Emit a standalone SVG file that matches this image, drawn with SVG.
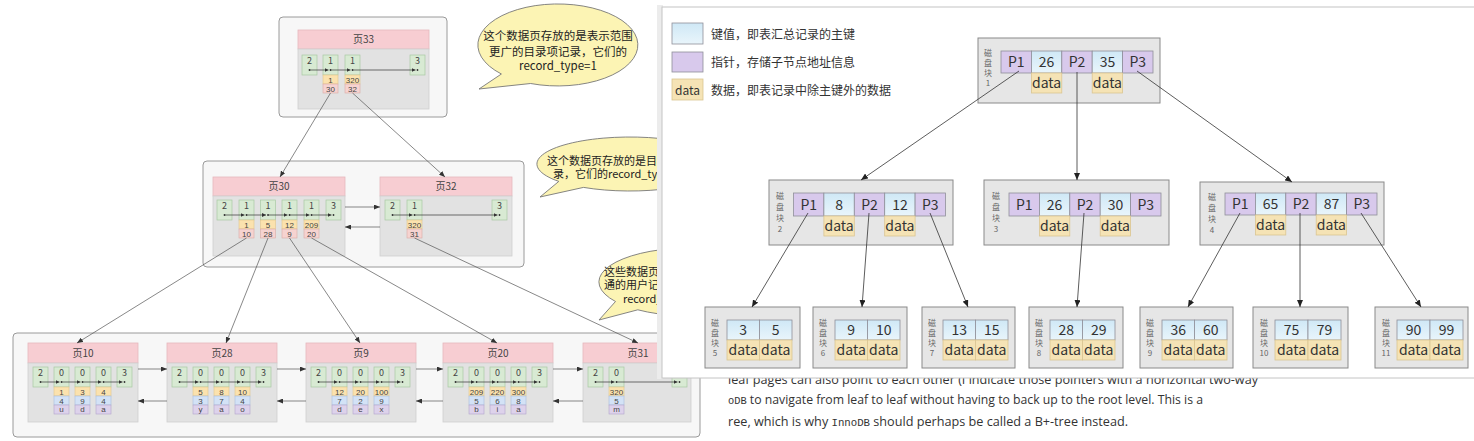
<svg xmlns="http://www.w3.org/2000/svg" width="1474" height="441" viewBox="0 0 1474 441">
<defs>
<marker id="ma" markerWidth="4" markerHeight="4" refX="4" refY="2" orient="auto" markerUnits="userSpaceOnUse"><path d="M0,0 L4,2 L0,4 z" fill="#333"/></marker>
<marker id="mb" markerWidth="6" markerHeight="5" refX="6" refY="2.5" orient="auto" markerUnits="userSpaceOnUse"><path d="M0,0 L6,2.5 L0,5 z" fill="#333"/></marker>
<marker id="mc" markerWidth="7" markerHeight="6" refX="7" refY="3" orient="auto" markerUnits="userSpaceOnUse"><path d="M0,0 L7,3 L0,6 z" fill="#222"/></marker>
<linearGradient id="gk" x1="0" y1="0" x2="0" y2="1"><stop offset="0" stop-color="#cfe8f6"/><stop offset="1" stop-color="#e9f5fb"/></linearGradient>
</defs>
<style>
.ct{fill:#f7f7f7;stroke:#9a9a9a;stroke-width:1}
.hd{fill:#f7cdd2;stroke:#e6b8bd;stroke-width:0.8}
.bd{fill:#e2e2e2;stroke:#cfcfcf;stroke-width:0.8}
.rc{fill:#d8ead3;stroke:#a9c9a4;stroke-width:0.7}
.ky{fill:#fbe2ae;stroke:#e2c68a;stroke-width:0.6}
.pg{fill:#f6d3d0;stroke:#d9aaa6;stroke-width:0.6}
.bl{fill:#d3e2f6;stroke:#a9bedd;stroke-width:0.6}
.pu{fill:#ddd2eb;stroke:#b3a5cb;stroke-width:0.6}
.n{font-family:"Noto Sans CJK SC","Noto Sans",sans-serif;font-size:9px;fill:#444;text-anchor:middle}
.k{font-family:"Liberation Sans",sans-serif;font-size:8px;fill:#444;text-anchor:middle}
.hn{font-family:"Noto Sans CJK SC","Noto Sans",sans-serif;font-size:10px;fill:#444;text-anchor:middle}
.ch{stroke:#333;stroke-width:0.7;fill:none;marker-end:url(#ma)}
.dt{fill:#333}
.ln{stroke:#555;stroke-width:0.7;fill:none;marker-end:url(#mb)}
.bub{fill:#fcf4b4;stroke:#777;stroke-width:0.9}
.bt{font-family:"Noto Sans CJK SC","Noto Sans",sans-serif;font-size:11.5px;fill:#222}
.bt2{font-family:"Noto Sans CJK SC","Noto Sans",sans-serif;font-size:11px;fill:#222}
.blk{fill:#e6e6e6;stroke:#8a8a8a;stroke-width:1}
.cp{fill:#d8c9ec;stroke:#8f8f9a;stroke-width:0.8}
.ck{fill:url(#gk);stroke:#8f8f9a;stroke-width:0.8}
.cd{fill:#f5e3b5;stroke:#dac592;stroke-width:0.8}
.ct2{font-family:"Noto Sans CJK SC","Noto Sans",sans-serif;font-size:14px;fill:#333;text-anchor:middle}
.vl{font-family:"Noto Sans CJK SC",sans-serif;font-size:8px;fill:#666;text-anchor:middle}
.tl{stroke:#333;stroke-width:0.8;fill:none;marker-end:url(#mc)}
.lg{font-family:"Noto Sans CJK SC",sans-serif;font-size:12px;fill:#333}
.en{font-family:"Open Sans","Noto Sans",sans-serif;font-size:13px;fill:#333}
.mo{font-family:"Liberation Mono","DejaVu Sans Mono",monospace;font-size:11px}
</style>
<rect x="0" y="0" width="1474" height="441" fill="#ffffff"/>

<!-- bubbles -->
<g id="bubble1">
<path class="bub" d="M501.4,74 A80 41 0 1 1 530.6,83.5 L479,89 Z"/>
<text class="bt" x="558" y="40" text-anchor="middle">这个数据页存放的是表示范围</text>
<text class="bt" x="558" y="56" text-anchor="middle">更广的目录项记录，它们的</text>
<text class="bt" x="558" y="70" text-anchor="middle">record_type=1</text>
</g>
<g id="bubble2">
<path class="bub" d="M558.8,181.4 A93 27 0 1 1 583.5,187.4 L540,197 Z"/>
<text class="bt2" x="547" y="164.5">这个数据页存放的是目</text>
<text class="bt2" x="553" y="178">录，它们的record_ty</text>
</g>
<g id="bubble3">
<path class="bub" d="M615.5,301.5 A91 34 0 1 1 637.8,309.8 L599,320 Z"/>
<text class="bt2" x="604" y="275.5">这些数据页</text>
<text class="bt2" x="604" y="289">通的用户记</text>
<text class="bt2" x="623" y="303">record_</text>
</g>

<!-- page 33 -->
<g id="page33">
<rect class="ct" x="279" y="17" width="168" height="100" rx="4"/>
<rect class="hd" x="298" y="30" width="131" height="19"/>
<text class="hn" x="363.5" y="43">页33</text>
<rect class="bd" x="298" y="49" width="131" height="60"/>
<rect class="rc" x="302" y="55" width="15" height="20"/><rect class="rc" x="323" y="55" width="15" height="20"/><rect class="rc" x="345" y="55" width="15" height="20"/><rect class="rc" x="410" y="55" width="15" height="20"/>
<text class="n" x="309.5" y="64">2</text><text class="n" x="330.5" y="64">1</text><text class="n" x="352.5" y="64">1</text><text class="n" x="417.5" y="64">3</text>
<circle class="dt" cx="309.5" cy="70" r="0.9"/><circle class="dt" cx="330.5" cy="70" r="0.9"/><circle class="dt" cx="352.5" cy="70" r="0.9"/><circle class="dt" cx="417.5" cy="70" r="0.9"/>
<line class="ch" x1="309.5" y1="70" x2="328.5" y2="70"/><line class="ch" x1="330.5" y1="70" x2="350.5" y2="70"/><line class="ch" x1="352.5" y1="70" x2="415.5" y2="70"/>
<rect class="ky" x="323" y="75" width="15" height="9"/><rect class="ky" x="345" y="75" width="15" height="9"/>
<rect class="pg" x="323" y="84" width="15" height="9"/><rect class="pg" x="345" y="84" width="15" height="9"/>
<text class="k" x="330.5" y="82.5">1</text><text class="k" x="352.5" y="82.5">320</text>
<text class="k" x="330.5" y="91.5">30</text><text class="k" x="352.5" y="91.5">32</text>
</g>

<!-- level 1 -->
<g id="page30">
<rect class="ct" x="203" y="161" width="321" height="106" rx="4"/>
<rect class="hd" x="213" y="177" width="132" height="19"/>
<text class="hn" x="279" y="190">页30</text>
<rect class="bd" x="213" y="196" width="132" height="60"/>
<rect class="rc" x="217" y="200" width="15" height="20"/><rect class="rc" x="239" y="200" width="15" height="20"/><rect class="rc" x="260.5" y="200" width="15" height="20"/><rect class="rc" x="282" y="200" width="15" height="20"/><rect class="rc" x="304" y="200" width="15" height="20"/><rect class="rc" x="326" y="200" width="15" height="20"/>
<text class="n" x="224.5" y="209">2</text><text class="n" x="246.5" y="209">1</text><text class="n" x="268" y="209">1</text><text class="n" x="289.5" y="209">1</text><text class="n" x="311.5" y="209">1</text><text class="n" x="333.5" y="209">3</text>
<circle class="dt" cx="224.5" cy="215" r="0.9"/><circle class="dt" cx="246.5" cy="215" r="0.9"/><circle class="dt" cx="268" cy="215" r="0.9"/><circle class="dt" cx="289.5" cy="215" r="0.9"/><circle class="dt" cx="311.5" cy="215" r="0.9"/><circle class="dt" cx="333.5" cy="215" r="0.9"/>
<line class="ch" x1="224.5" y1="215" x2="244.5" y2="215"/><line class="ch" x1="246.5" y1="215" x2="266" y2="215"/><line class="ch" x1="268" y1="215" x2="287.5" y2="215"/><line class="ch" x1="289.5" y1="215" x2="309.5" y2="215"/><line class="ch" x1="311.5" y1="215" x2="331.5" y2="215"/>
<rect class="ky" x="239" y="220" width="15" height="9"/><rect class="ky" x="260.5" y="220" width="15" height="9"/><rect class="ky" x="282" y="220" width="15" height="9"/><rect class="ky" x="304" y="220" width="15" height="9"/>
<rect class="pg" x="239" y="229" width="15" height="9"/><rect class="pg" x="260.5" y="229" width="15" height="9"/><rect class="pg" x="282" y="229" width="15" height="9"/><rect class="pg" x="304" y="229" width="15" height="9"/>
<text class="k" x="246.5" y="227.5">1</text><text class="k" x="268" y="227.5">5</text><text class="k" x="289.5" y="227.5">12</text><text class="k" x="311.5" y="227.5">209</text>
<text class="k" x="246.5" y="236.5">10</text><text class="k" x="268" y="236.5">28</text><text class="k" x="289.5" y="236.5">9</text><text class="k" x="311.5" y="236.5">20</text>
</g>
<g id="page32">
<rect class="hd" x="380" y="177" width="132" height="19"/>
<text class="hn" x="446" y="190">页32</text>
<rect class="bd" x="380" y="196" width="132" height="60"/>
<rect class="rc" x="385" y="200" width="15" height="20"/><rect class="rc" x="407" y="200" width="15" height="20"/><rect class="rc" x="492" y="200" width="15" height="20"/>
<text class="n" x="392.5" y="209">2</text><text class="n" x="414.5" y="209">1</text><text class="n" x="499.5" y="209">3</text>
<circle class="dt" cx="392.5" cy="215" r="0.9"/><circle class="dt" cx="414.5" cy="215" r="0.9"/><circle class="dt" cx="499.5" cy="215" r="0.9"/>
<line class="ch" x1="392.5" y1="215" x2="412.5" y2="215"/><line class="ch" x1="414.5" y1="215" x2="497.5" y2="215"/>
<rect class="ky" x="407" y="220" width="15" height="9"/><rect class="pg" x="407" y="229" width="15" height="9"/>
<text class="k" x="414.5" y="227.5">320</text><text class="k" x="414.5" y="236.5">31</text>
</g>

<!-- leaf container -->
<rect class="ct" x="13" y="333" width="687" height="104" rx="4"/>

<g id="page10">
<rect class="hd" x="28" y="343" width="110" height="20"/><text class="hn" x="83" y="357">页10</text>
<rect class="bd" x="28" y="363" width="110" height="59"/>
<rect class="rc" x="33" y="367" width="15" height="20"/><rect class="rc" x="54" y="367" width="15" height="20"/><rect class="rc" x="75" y="367" width="15" height="20"/><rect class="rc" x="96" y="367" width="15" height="20"/><rect class="rc" x="117" y="367" width="15" height="20"/>
<text class="n" x="40.5" y="376">2</text><text class="n" x="61.5" y="376">0</text><text class="n" x="82.5" y="376">0</text><text class="n" x="103.5" y="376">0</text><text class="n" x="124.5" y="376">3</text>
<circle class="dt" cx="40.5" cy="382" r="0.9"/><circle class="dt" cx="61.5" cy="382" r="0.9"/><circle class="dt" cx="82.5" cy="382" r="0.9"/><circle class="dt" cx="103.5" cy="382" r="0.9"/><circle class="dt" cx="124.5" cy="382" r="0.9"/>
<line class="ch" x1="40.5" y1="382" x2="59.5" y2="382"/><line class="ch" x1="61.5" y1="382" x2="80.5" y2="382"/><line class="ch" x1="82.5" y1="382" x2="101.5" y2="382"/><line class="ch" x1="103.5" y1="382" x2="122.5" y2="382"/>
<rect class="ky" x="54" y="387" width="15" height="9"/><rect class="ky" x="75" y="387" width="15" height="9"/><rect class="ky" x="96" y="387" width="15" height="9"/>
<rect class="bl" x="54" y="396" width="15" height="9"/><rect class="bl" x="75" y="396" width="15" height="9"/><rect class="bl" x="96" y="396" width="15" height="9"/>
<rect class="pu" x="54" y="405" width="15" height="9"/><rect class="pu" x="75" y="405" width="15" height="9"/><rect class="pu" x="96" y="405" width="15" height="9"/>
<text class="k" x="61.5" y="394.5">1</text><text class="k" x="82.5" y="394.5">3</text><text class="k" x="103.5" y="394.5">4</text>
<text class="k" x="61.5" y="403.5">4</text><text class="k" x="82.5" y="403.5">9</text><text class="k" x="103.5" y="403.5">4</text>
<text class="k" x="61.5" y="411.5">u</text><text class="k" x="82.5" y="411.5">d</text><text class="k" x="103.5" y="411.5">a</text>
</g>

<g id="page28">
<rect class="hd" x="167" y="343" width="110" height="20"/><text class="hn" x="222" y="357">页28</text>
<rect class="bd" x="167" y="363" width="110" height="59"/>
<rect class="rc" x="172" y="367" width="15" height="20"/><rect class="rc" x="193" y="367" width="15" height="20"/><rect class="rc" x="214" y="367" width="15" height="20"/><rect class="rc" x="235" y="367" width="15" height="20"/><rect class="rc" x="256" y="367" width="15" height="20"/>
<text class="n" x="179.5" y="376">2</text><text class="n" x="200.5" y="376">0</text><text class="n" x="221.5" y="376">0</text><text class="n" x="242.5" y="376">0</text><text class="n" x="263.5" y="376">3</text>
<circle class="dt" cx="179.5" cy="382" r="0.9"/><circle class="dt" cx="200.5" cy="382" r="0.9"/><circle class="dt" cx="221.5" cy="382" r="0.9"/><circle class="dt" cx="242.5" cy="382" r="0.9"/><circle class="dt" cx="263.5" cy="382" r="0.9"/>
<line class="ch" x1="179.5" y1="382" x2="198.5" y2="382"/><line class="ch" x1="200.5" y1="382" x2="219.5" y2="382"/><line class="ch" x1="221.5" y1="382" x2="240.5" y2="382"/><line class="ch" x1="242.5" y1="382" x2="261.5" y2="382"/>
<rect class="ky" x="193" y="387" width="15" height="9"/><rect class="ky" x="214" y="387" width="15" height="9"/><rect class="ky" x="235" y="387" width="15" height="9"/>
<rect class="bl" x="193" y="396" width="15" height="9"/><rect class="bl" x="214" y="396" width="15" height="9"/><rect class="bl" x="235" y="396" width="15" height="9"/>
<rect class="pu" x="193" y="405" width="15" height="9"/><rect class="pu" x="214" y="405" width="15" height="9"/><rect class="pu" x="235" y="405" width="15" height="9"/>
<text class="k" x="200.5" y="394.5">5</text><text class="k" x="221.5" y="394.5">8</text><text class="k" x="242.5" y="394.5">10</text>
<text class="k" x="200.5" y="403.5">3</text><text class="k" x="221.5" y="403.5">7</text><text class="k" x="242.5" y="403.5">4</text>
<text class="k" x="200.5" y="411.5">y</text><text class="k" x="221.5" y="411.5">a</text><text class="k" x="242.5" y="411.5">o</text>
</g>

<g id="page9">
<rect class="hd" x="306" y="343" width="110" height="20"/><text class="hn" x="361" y="357">页9</text>
<rect class="bd" x="306" y="363" width="110" height="59"/>
<rect class="rc" x="311" y="367" width="15" height="20"/><rect class="rc" x="332" y="367" width="15" height="20"/><rect class="rc" x="353" y="367" width="15" height="20"/><rect class="rc" x="374" y="367" width="15" height="20"/><rect class="rc" x="395" y="367" width="15" height="20"/>
<text class="n" x="318.5" y="376">2</text><text class="n" x="339.5" y="376">0</text><text class="n" x="360.5" y="376">0</text><text class="n" x="381.5" y="376">0</text><text class="n" x="402.5" y="376">3</text>
<circle class="dt" cx="318.5" cy="382" r="0.9"/><circle class="dt" cx="339.5" cy="382" r="0.9"/><circle class="dt" cx="360.5" cy="382" r="0.9"/><circle class="dt" cx="381.5" cy="382" r="0.9"/><circle class="dt" cx="402.5" cy="382" r="0.9"/>
<line class="ch" x1="318.5" y1="382" x2="337.5" y2="382"/><line class="ch" x1="339.5" y1="382" x2="358.5" y2="382"/><line class="ch" x1="360.5" y1="382" x2="379.5" y2="382"/><line class="ch" x1="381.5" y1="382" x2="400.5" y2="382"/>
<rect class="ky" x="332" y="387" width="15" height="9"/><rect class="ky" x="353" y="387" width="15" height="9"/><rect class="ky" x="374" y="387" width="15" height="9"/>
<rect class="bl" x="332" y="396" width="15" height="9"/><rect class="bl" x="353" y="396" width="15" height="9"/><rect class="bl" x="374" y="396" width="15" height="9"/>
<rect class="pu" x="332" y="405" width="15" height="9"/><rect class="pu" x="353" y="405" width="15" height="9"/><rect class="pu" x="374" y="405" width="15" height="9"/>
<text class="k" x="339.5" y="394.5">12</text><text class="k" x="360.5" y="394.5">20</text><text class="k" x="381.5" y="394.5">100</text>
<text class="k" x="339.5" y="403.5">7</text><text class="k" x="360.5" y="403.5">2</text><text class="k" x="381.5" y="403.5">9</text>
<text class="k" x="339.5" y="411.5">d</text><text class="k" x="360.5" y="411.5">e</text><text class="k" x="381.5" y="411.5">x</text>
</g>

<g id="page20">
<rect class="hd" x="443" y="343" width="110" height="20"/><text class="hn" x="498" y="357">页20</text>
<rect class="bd" x="443" y="363" width="110" height="59"/>
<rect class="rc" x="448" y="367" width="15" height="20"/><rect class="rc" x="469" y="367" width="15" height="20"/><rect class="rc" x="490" y="367" width="15" height="20"/><rect class="rc" x="511" y="367" width="15" height="20"/><rect class="rc" x="532" y="367" width="15" height="20"/>
<text class="n" x="455.5" y="376">2</text><text class="n" x="476.5" y="376">0</text><text class="n" x="497.5" y="376">0</text><text class="n" x="518.5" y="376">0</text><text class="n" x="539.5" y="376">3</text>
<circle class="dt" cx="455.5" cy="382" r="0.9"/><circle class="dt" cx="476.5" cy="382" r="0.9"/><circle class="dt" cx="497.5" cy="382" r="0.9"/><circle class="dt" cx="518.5" cy="382" r="0.9"/><circle class="dt" cx="539.5" cy="382" r="0.9"/>
<line class="ch" x1="455.5" y1="382" x2="474.5" y2="382"/><line class="ch" x1="476.5" y1="382" x2="495.5" y2="382"/><line class="ch" x1="497.5" y1="382" x2="516.5" y2="382"/><line class="ch" x1="518.5" y1="382" x2="537.5" y2="382"/>
<rect class="ky" x="469" y="387" width="15" height="9"/><rect class="ky" x="490" y="387" width="15" height="9"/><rect class="ky" x="511" y="387" width="15" height="9"/>
<rect class="bl" x="469" y="396" width="15" height="9"/><rect class="bl" x="490" y="396" width="15" height="9"/><rect class="bl" x="511" y="396" width="15" height="9"/>
<rect class="pu" x="469" y="405" width="15" height="9"/><rect class="pu" x="490" y="405" width="15" height="9"/><rect class="pu" x="511" y="405" width="15" height="9"/>
<text class="k" x="476.5" y="394.5">209</text><text class="k" x="497.5" y="394.5">220</text><text class="k" x="518.5" y="394.5">300</text>
<text class="k" x="476.5" y="403.5">5</text><text class="k" x="497.5" y="403.5">6</text><text class="k" x="518.5" y="403.5">8</text>
<text class="k" x="476.5" y="411.5">b</text><text class="k" x="497.5" y="411.5">i</text><text class="k" x="518.5" y="411.5">a</text>
</g>

<g id="page31">
<rect class="hd" x="583" y="343" width="108" height="20"/><text class="hn" x="638" y="357">页31</text>
<rect class="bd" x="583" y="363" width="108" height="59"/>
<rect class="rc" x="588" y="367" width="15" height="20"/><rect class="rc" x="609" y="367" width="15" height="20"/><rect class="rc" x="672" y="367" width="15" height="20"/>
<text class="n" x="595.5" y="376">2</text><text class="n" x="616.5" y="376">0</text>
<circle class="dt" cx="595.5" cy="382" r="0.9"/><circle class="dt" cx="616.5" cy="382" r="0.9"/><circle class="dt" cx="679.5" cy="382" r="0.9"/>
<line class="ch" x1="595.5" y1="382" x2="614.5" y2="382"/><line class="ch" x1="616.5" y1="382" x2="677.5" y2="382"/>
<rect class="ky" x="609" y="387" width="15" height="9"/><rect class="bl" x="609" y="396" width="15" height="9"/><rect class="pu" x="609" y="405" width="15" height="9"/>
<text class="k" x="616.5" y="394.5">320</text><text class="k" x="616.5" y="403.5">5</text><text class="k" x="616.5" y="411.5">m</text>
</g>

<!-- left connectors -->
<g id="left-connectors">
<line class="ln" x1="330.5" y1="93" x2="280" y2="177"/>
<line class="ln" x1="352.5" y1="93" x2="445" y2="177"/>
<line class="ln" x1="345" y1="207" x2="380" y2="207"/>
<line class="ln" x1="380" y1="227" x2="345" y2="227"/>
<line class="ln" x1="246.5" y1="238" x2="77" y2="343"/>
<line class="ln" x1="268" y1="238" x2="226" y2="343"/>
<line class="ln" x1="289.5" y1="238" x2="360" y2="343"/>
<line class="ln" x1="311.5" y1="238" x2="497" y2="343"/>
<line class="ln" x1="414.5" y1="238" x2="638" y2="343"/>
<line class="ln" x1="138" y1="369" x2="167" y2="369"/>
<line class="ln" x1="277" y1="369" x2="306" y2="369"/>
<line class="ln" x1="416" y1="369" x2="443" y2="369"/>
<line class="ln" x1="553" y1="369" x2="583" y2="369"/>
<line class="ln" x1="167" y1="401" x2="138" y2="401"/>
<line class="ln" x1="306" y1="401" x2="277" y2="401"/>
<line class="ln" x1="443" y1="401" x2="416" y2="401"/>
<line class="ln" x1="583" y1="401" x2="553" y2="401"/>
</g>

<!-- background page text -->
<g id="page-text">
<text class="en" x="728" y="384" textLength="530" lengthAdjust="spacingAndGlyphs">leaf pages can also point to each other (I indicate those pointers with a horizontal two-way</text>
<text class="en" x="728" y="404" textLength="475" lengthAdjust="spacingAndGlyphs"><tspan class="mo">oDB</tspan> to navigate from leaf to leaf without having to back up to the root level. This is a</text>
<text class="en" x="728" y="426" textLength="400" lengthAdjust="spacingAndGlyphs">ree, which is why <tspan class="mo">InnoDB</tspan> should perhaps be called a B+-tree instead.</text>
</g>

<!-- right panel -->
<rect x="657" y="5" width="6" height="374" fill="#ececec"/>
<rect x="662" y="7" width="820" height="371" fill="#ffffff" stroke="#c4c4c4" stroke-width="1"/>

<g id="legend">
<rect class="ck" x="672" y="23" width="31" height="21"/>
<text class="lg" x="711" y="38.5">键值，即表汇总记录的主键</text>
<rect class="cp" x="672" y="52" width="31" height="20"/>
<text class="lg" x="711" y="66.5">指针，存储子节点地址信息</text>
<rect class="cd" x="672" y="79" width="31" height="21"/>
<text class="lg" x="687.5" y="94.5" text-anchor="middle">data</text>
<text class="lg" x="711" y="94.5">数据，即表记录中除主键外的数据</text>
</g>

<g id="block1">
<rect class="blk" x="978" y="38" width="182" height="65"/>
<text class="vl" x="988" y="56">磁</text><text class="vl" x="988" y="66">盘</text><text class="vl" x="988" y="76">块</text><text class="vl" x="988" y="86">1</text>
<rect class="cp" x="1001" y="51" width="30.4" height="22"/><rect class="ck" x="1031.4" y="51" width="30.4" height="22"/><rect class="cp" x="1061.8" y="51" width="30.4" height="22"/><rect class="ck" x="1092.2" y="51" width="30.4" height="22"/><rect class="cp" x="1122.6" y="51" width="30.4" height="22"/>
<rect class="cd" x="1031.4" y="73" width="30.4" height="20"/><rect class="cd" x="1092.2" y="73" width="30.4" height="20"/>
<text class="ct2" x="1016.2" y="67">P1</text><text class="ct2" x="1046.6" y="67">26</text><text class="ct2" x="1077" y="67">P2</text><text class="ct2" x="1107.4" y="67">35</text><text class="ct2" x="1137.8" y="67">P3</text>
<text class="ct2" x="1046.6" y="88" font-size="13.5">data</text><text class="ct2" x="1107.4" y="88" font-size="13.5">data</text>
</g>

<g id="block2">
<rect class="blk" x="769" y="180" width="184" height="65"/>
<text class="vl" x="780" y="199">磁</text><text class="vl" x="780" y="210">盘</text><text class="vl" x="780" y="221">块</text><text class="vl" x="780" y="232">2</text>
<rect class="cp" x="793.5" y="193" width="30.4" height="23"/><rect class="ck" x="823.9" y="193" width="30.4" height="23"/><rect class="cp" x="854.3" y="193" width="30.4" height="23"/><rect class="ck" x="884.7" y="193" width="30.4" height="23"/><rect class="cp" x="915.1" y="193" width="30.4" height="23"/>
<rect class="cd" x="823.9" y="216" width="30.4" height="20"/><rect class="cd" x="884.7" y="216" width="30.4" height="20"/>
<text class="ct2" x="808.7" y="209.5">P1</text><text class="ct2" x="839.1" y="209.5">8</text><text class="ct2" x="869.5" y="209.5">P2</text><text class="ct2" x="899.9" y="209.5">12</text><text class="ct2" x="930.3" y="209.5">P3</text>
<text class="ct2" x="839.1" y="231" font-size="13.5">data</text><text class="ct2" x="899.9" y="231" font-size="13.5">data</text>
</g>

<g id="block3">
<rect class="blk" x="984" y="180" width="185" height="65"/>
<text class="vl" x="996" y="199">磁</text><text class="vl" x="996" y="210">盘</text><text class="vl" x="996" y="221">块</text><text class="vl" x="996" y="232">3</text>
<rect class="cp" x="1009" y="193" width="30.4" height="23"/><rect class="ck" x="1039.4" y="193" width="30.4" height="23"/><rect class="cp" x="1069.8" y="193" width="30.4" height="23"/><rect class="ck" x="1100.2" y="193" width="30.4" height="23"/><rect class="cp" x="1130.6" y="193" width="30.4" height="23"/>
<rect class="cd" x="1039.4" y="216" width="30.4" height="20"/><rect class="cd" x="1100.2" y="216" width="30.4" height="20"/>
<text class="ct2" x="1024.2" y="209.5">P1</text><text class="ct2" x="1054.6" y="209.5">26</text><text class="ct2" x="1085" y="209.5">P2</text><text class="ct2" x="1115.4" y="209.5">30</text><text class="ct2" x="1145.8" y="209.5">P3</text>
<text class="ct2" x="1054.6" y="231" font-size="13.5">data</text><text class="ct2" x="1115.4" y="231" font-size="13.5">data</text>
</g>

<g id="block4">
<rect class="blk" x="1200" y="182" width="184" height="63"/>
<text class="vl" x="1212" y="200">磁</text><text class="vl" x="1212" y="211">盘</text><text class="vl" x="1212" y="222">块</text><text class="vl" x="1212" y="233">4</text>
<rect class="cp" x="1225" y="193" width="30.4" height="22"/><rect class="ck" x="1255.4" y="193" width="30.4" height="22"/><rect class="cp" x="1285.8" y="193" width="30.4" height="22"/><rect class="ck" x="1316.2" y="193" width="30.4" height="22"/><rect class="cp" x="1346.6" y="193" width="30.4" height="22"/>
<rect class="cd" x="1255.4" y="215" width="30.4" height="20"/><rect class="cd" x="1316.2" y="215" width="30.4" height="20"/>
<text class="ct2" x="1240.2" y="209">P1</text><text class="ct2" x="1270.6" y="209">65</text><text class="ct2" x="1301" y="209">P2</text><text class="ct2" x="1331.4" y="209">87</text><text class="ct2" x="1361.8" y="209">P3</text>
<text class="ct2" x="1270.6" y="230" font-size="13.5">data</text><text class="ct2" x="1331.4" y="230" font-size="13.5">data</text>
</g>

<g id="block5">
<rect class="blk" x="705" y="307" width="95" height="61"/>
<text class="vl" x="715" y="326">磁</text><text class="vl" x="715" y="336">盘</text><text class="vl" x="715" y="346">块</text><text class="vl" x="715" y="356">5</text>
<rect class="ck" x="727" y="320" width="32.5" height="20"/><rect class="ck" x="759.5" y="320" width="32.5" height="20"/>
<rect class="cd" x="727" y="340" width="32.5" height="20"/><rect class="cd" x="759.5" y="340" width="32.5" height="20"/>
<text class="ct2" x="743.2" y="335">3</text><text class="ct2" x="775.7" y="335">5</text>
<text class="ct2" x="743.2" y="355">data</text><text class="ct2" x="775.7" y="355">data</text>
</g>
<g id="block6">
<rect class="blk" x="813" y="307" width="94" height="61"/>
<text class="vl" x="823" y="326">磁</text><text class="vl" x="823" y="336">盘</text><text class="vl" x="823" y="346">块</text><text class="vl" x="823" y="356">6</text>
<rect class="ck" x="835" y="320" width="32.5" height="20"/><rect class="ck" x="867.5" y="320" width="32.5" height="20"/>
<rect class="cd" x="835" y="340" width="32.5" height="20"/><rect class="cd" x="867.5" y="340" width="32.5" height="20"/>
<text class="ct2" x="851.2" y="335">9</text><text class="ct2" x="883.7" y="335">10</text>
<text class="ct2" x="851.2" y="355">data</text><text class="ct2" x="883.7" y="355">data</text>
</g>
<g id="block7">
<rect class="blk" x="922" y="307" width="93" height="61"/>
<text class="vl" x="932" y="326">磁</text><text class="vl" x="932" y="336">盘</text><text class="vl" x="932" y="346">块</text><text class="vl" x="932" y="356">7</text>
<rect class="ck" x="943" y="320" width="32.5" height="20"/><rect class="ck" x="975.5" y="320" width="32.5" height="20"/>
<rect class="cd" x="943" y="340" width="32.5" height="20"/><rect class="cd" x="975.5" y="340" width="32.5" height="20"/>
<text class="ct2" x="959.2" y="335">13</text><text class="ct2" x="991.7" y="335">15</text>
<text class="ct2" x="959.2" y="355">data</text><text class="ct2" x="991.7" y="355">data</text>
</g>
<g id="block8">
<rect class="blk" x="1029" y="307" width="94" height="61"/>
<text class="vl" x="1039" y="326">磁</text><text class="vl" x="1039" y="336">盘</text><text class="vl" x="1039" y="346">块</text><text class="vl" x="1039" y="356">8</text>
<rect class="ck" x="1050" y="320" width="32.5" height="20"/><rect class="ck" x="1082.5" y="320" width="32.5" height="20"/>
<rect class="cd" x="1050" y="340" width="32.5" height="20"/><rect class="cd" x="1082.5" y="340" width="32.5" height="20"/>
<text class="ct2" x="1066.2" y="335">28</text><text class="ct2" x="1098.7" y="335">29</text>
<text class="ct2" x="1066.2" y="355">data</text><text class="ct2" x="1098.7" y="355">data</text>
</g>
<g id="block9">
<rect class="blk" x="1140" y="307" width="93" height="61"/>
<text class="vl" x="1150" y="326">磁</text><text class="vl" x="1150" y="336">盘</text><text class="vl" x="1150" y="346">块</text><text class="vl" x="1150" y="356">9</text>
<rect class="ck" x="1162" y="320" width="32.5" height="20"/><rect class="ck" x="1194.5" y="320" width="32.5" height="20"/>
<rect class="cd" x="1162" y="340" width="32.5" height="20"/><rect class="cd" x="1194.5" y="340" width="32.5" height="20"/>
<text class="ct2" x="1178.2" y="335">36</text><text class="ct2" x="1210.7" y="335">60</text>
<text class="ct2" x="1178.2" y="355">data</text><text class="ct2" x="1210.7" y="355">data</text>
</g>
<g id="block10">
<rect class="blk" x="1253" y="307" width="95" height="61"/>
<text class="vl" x="1264" y="326">磁</text><text class="vl" x="1264" y="336">盘</text><text class="vl" x="1264" y="346">块</text><text class="vl" x="1264" y="356">10</text>
<rect class="ck" x="1275" y="320" width="33" height="20"/><rect class="ck" x="1308" y="320" width="33" height="20"/>
<rect class="cd" x="1275" y="340" width="33" height="20"/><rect class="cd" x="1308" y="340" width="33" height="20"/>
<text class="ct2" x="1291.5" y="335">75</text><text class="ct2" x="1324.5" y="335">79</text>
<text class="ct2" x="1291.5" y="355">data</text><text class="ct2" x="1324.5" y="355">data</text>
</g>
<g id="block11">
<rect class="blk" x="1375" y="307" width="93" height="61"/>
<text class="vl" x="1386" y="326">磁</text><text class="vl" x="1386" y="336">盘</text><text class="vl" x="1386" y="346">块</text><text class="vl" x="1386" y="356">11</text>
<rect class="ck" x="1397" y="320" width="33" height="20"/><rect class="ck" x="1430" y="320" width="33" height="20"/>
<rect class="cd" x="1397" y="340" width="33" height="20"/><rect class="cd" x="1430" y="340" width="33" height="20"/>
<text class="ct2" x="1413.5" y="335">90</text><text class="ct2" x="1446.5" y="335">99</text>
<text class="ct2" x="1413.5" y="355">data</text><text class="ct2" x="1446.5" y="355">data</text>
</g>

<g id="tree-connectors">
<line class="tl" x1="1019" y1="71" x2="861" y2="180"/>
<line class="tl" x1="1077" y1="72" x2="1077" y2="180"/>
<line class="tl" x1="1137" y1="71" x2="1292" y2="182"/>
<line class="tl" x1="808" y1="213" x2="752" y2="307"/>
<line class="tl" x1="869" y1="213" x2="862" y2="307"/>
<line class="tl" x1="930" y1="213" x2="968" y2="307"/>
<line class="tl" x1="1084" y1="213" x2="1077" y2="307"/>
<line class="tl" x1="1240" y1="213" x2="1188" y2="307"/>
<line class="tl" x1="1300" y1="213" x2="1300" y2="307"/>
<line class="tl" x1="1361" y1="213" x2="1421" y2="307"/>
</g>
</svg>
